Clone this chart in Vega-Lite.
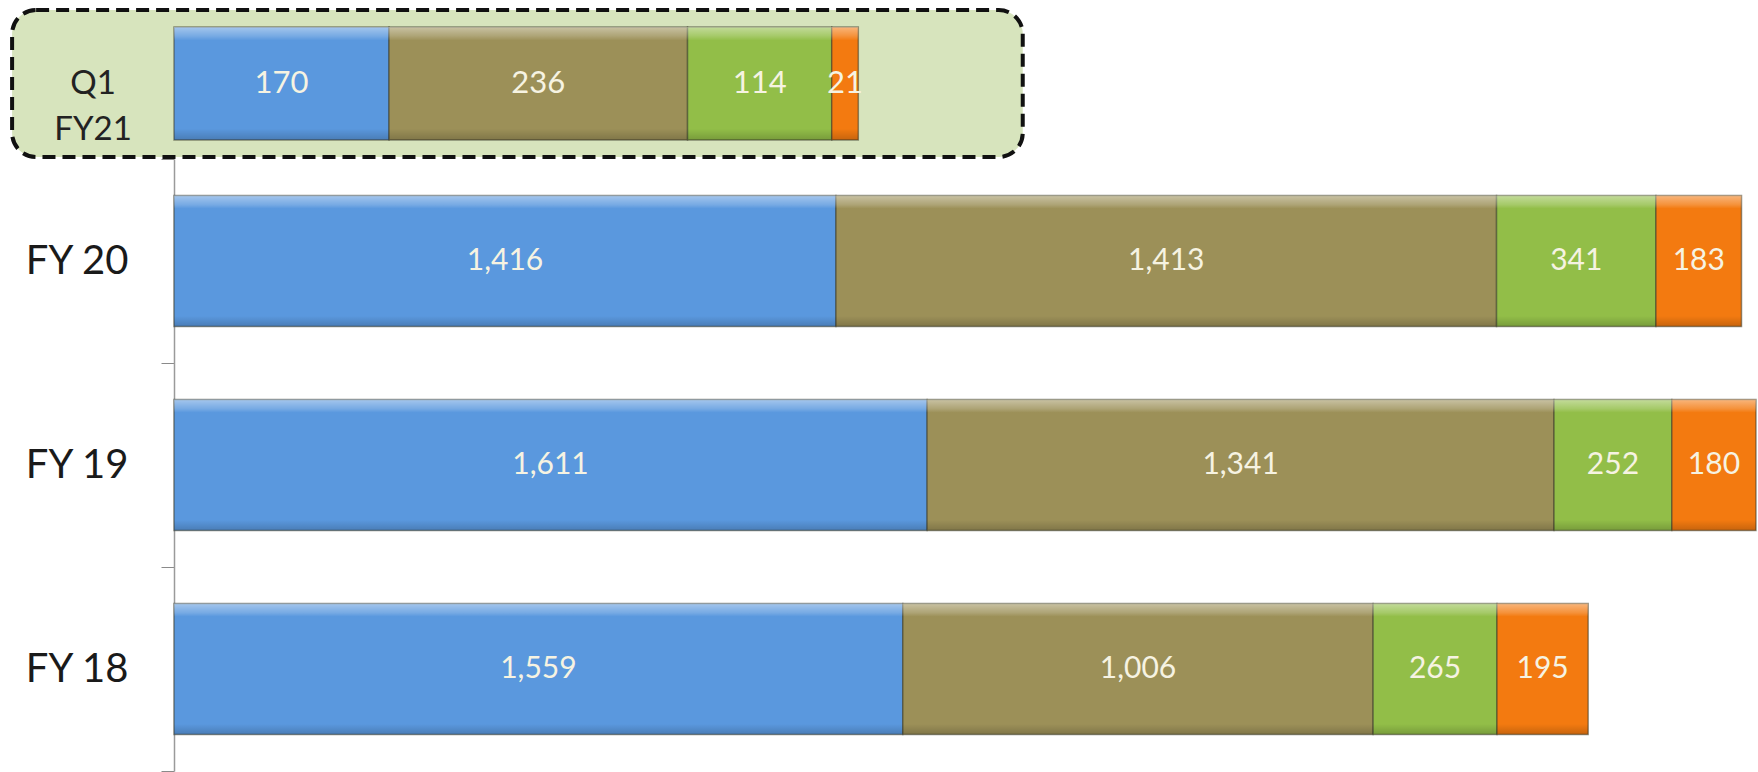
{
  "$schema": "https://vega.github.io/schema/vega-lite/v6.json",
  "background": "white",
  "padding": {"left": 10, "top": 8, "right": 0, "bottom": 0},
  "spacing": -20,
  "config": {"view": {"stroke": null}, "font": "Lato"},
  "datasets": {
    "q1": [
      {"period": "Q1 FY21", "seg": "A", "order": 1, "value": 170},
      {"period": "Q1 FY21", "seg": "B", "order": 2, "value": 236},
      {"period": "Q1 FY21", "seg": "C", "order": 3, "value": 114},
      {"period": "Q1 FY21", "seg": "D", "order": 4, "value": 21}
    ],
    "main": [
      {"year": "FY 20", "seg": "A", "order": 1, "value": 1416},
      {"year": "FY 20", "seg": "B", "order": 2, "value": 1413},
      {"year": "FY 20", "seg": "C", "order": 3, "value": 341},
      {"year": "FY 20", "seg": "D", "order": 4, "value": 183},
      {"year": "FY 19", "seg": "A", "order": 1, "value": 1611},
      {"year": "FY 19", "seg": "B", "order": 2, "value": 1341},
      {"year": "FY 19", "seg": "C", "order": 3, "value": 252},
      {"year": "FY 19", "seg": "D", "order": 4, "value": 180},
      {"year": "FY 18", "seg": "A", "order": 1, "value": 1559},
      {"year": "FY 18", "seg": "B", "order": 2, "value": 1006},
      {"year": "FY 18", "seg": "C", "order": 3, "value": 265},
      {"year": "FY 18", "seg": "D", "order": 4, "value": 195}
    ]
  },
  "vconcat": [
    {
      "width": 850,
      "height": 147,
      "data": {"name": "q1"},
      "layer": [
        {
          "data": {"values": [{"period": "Q1 FY21"}]},
          "mark": {"type": "rect", "fill": "#d7e4bd", "stroke": "#111111", "strokeWidth": 4, "strokeDash": [13, 7], "cornerRadius": 24},
          "encoding": {
            "x": {"datum": -128, "type": "quantitative", "scale": {"domain": [0, 672], "nice": false, "zero": false}, "axis": null},
            "x2": {"datum": 671}
          }
        },
        {
          "data": {"values": [{"period": "Q1 FY21"}]},
          "mark": {"type": "text", "fontSize": 33, "color": "#222222", "lineBreak": " ", "lineHeight": 46, "align": "center", "baseline": "middle", "font": "Lato"},
          "encoding": {
            "x": {"datum": -64, "type": "quantitative", "axis": null},
            "text": {"field": "period"}
          }
        },
        {
          "mark": {"type": "bar", "stroke": "#3e3e2c", "strokeWidth": 1.5, "strokeOpacity": 0.55},
          "encoding": {
            "x": {"field": "value", "type": "quantitative", "stack": "zero", "axis": null},
            "y": {"field": "period", "type": "nominal", "scale": {"paddingInner": 0.2, "paddingOuter": 0.12}, "axis": {"title": null, "labels": false, "ticks": false, "domainColor": "#9a9a9a", "domainWidth": 1.5}},
            "color": {"field": "seg", "type": "nominal", "legend": null, "scale": {"domain": ["A", "B", "C", "D"], "range": ["#5a98de", "#9c9058", "#92be48", "#f37a10"]}},
            "order": {"field": "order", "type": "quantitative"}
          }
        },
        {
          "mark": {"type": "bar", "fill": {"gradient": "linear", "x1": 0, "y1": 0, "x2": 0, "y2": 1, "stops": [{"offset": 0, "color": "rgba(255,255,255,0.45)"}, {"offset": 0.08, "color": "rgba(255,255,255,0.18)"}, {"offset": 0.12, "color": "rgba(255,255,255,0)"}, {"offset": 0.9, "color": "rgba(0,0,0,0)"}, {"offset": 1, "color": "rgba(0,0,0,0.18)"}]}},
          "encoding": {
            "x": {"field": "value", "type": "quantitative", "stack": "zero", "axis": null},
            "y": {"field": "period", "type": "nominal"},
            "order": {"field": "order", "type": "quantitative"}
          }
        },
        {
          "mark": {"type": "text", "fontSize": 31, "color": "#f6f3e2", "align": "center", "baseline": "middle", "font": "Lato"},
          "encoding": {
            "x": {"field": "value", "type": "quantitative", "stack": "zero", "bandPosition": 0.5, "axis": null},
            "y": {"field": "period", "type": "nominal"},
            "order": {"field": "order", "type": "quantitative"},
            "text": {"field": "value", "type": "quantitative", "format": ",d"}
          }
        }
      ]
    },
    {
      "width": 1582,
      "height": 612,
      "data": {"name": "main"},
      "encoding": {
        "y": {"field": "year", "type": "nominal", "sort": ["FY 20", "FY 19", "FY 18"], "scale": {"paddingInner": 0, "paddingOuter": 0},
          "axis": {"title": null, "tickBand": "extent", "tickSize": 13, "tickColor": "#8a8a8a", "domainColor": "#9a9a9a", "domainWidth": 1.5, "labelFontSize": 40, "labelColor": "#1a1a1a", "labelPadding": 33, "labelFont": "Lato"}},
        "order": {"field": "order", "type": "quantitative"}
      },
      "layer": [
        {
          "mark": {"type": "bar", "height": {"band": 0.642}, "stroke": "#3e3e2c", "strokeWidth": 1.5, "strokeOpacity": 0.55},
          "encoding": {
            "x": {"field": "value", "type": "quantitative", "stack": "zero", "scale": {"domain": [0, 3384], "nice": false}, "axis": null},
            "color": {"field": "seg", "type": "nominal", "legend": null, "scale": {"domain": ["A", "B", "C", "D"], "range": ["#5a98de", "#9c9058", "#92be48", "#f37a10"]}}
          }
        },
        {
          "mark": {"type": "bar", "height": {"band": 0.642}, "fill": {"gradient": "linear", "x1": 0, "y1": 0, "x2": 0, "y2": 1, "stops": [{"offset": 0, "color": "rgba(255,255,255,0.45)"}, {"offset": 0.07, "color": "rgba(255,255,255,0.18)"}, {"offset": 0.1, "color": "rgba(255,255,255,0)"}, {"offset": 0.92, "color": "rgba(0,0,0,0)"}, {"offset": 1, "color": "rgba(0,0,0,0.18)"}]}},
          "encoding": {
            "x": {"field": "value", "type": "quantitative", "stack": "zero", "axis": null}
          }
        },
        {
          "mark": {"type": "text", "fontSize": 30, "color": "#f6f3e2", "align": "center", "baseline": "middle", "font": "Lato"},
          "encoding": {
            "x": {"field": "value", "type": "quantitative", "stack": "zero", "bandPosition": 0.5, "axis": null},
            "text": {"field": "value", "type": "quantitative", "format": ",d"}
          }
        }
      ]
    }
  ]
}
